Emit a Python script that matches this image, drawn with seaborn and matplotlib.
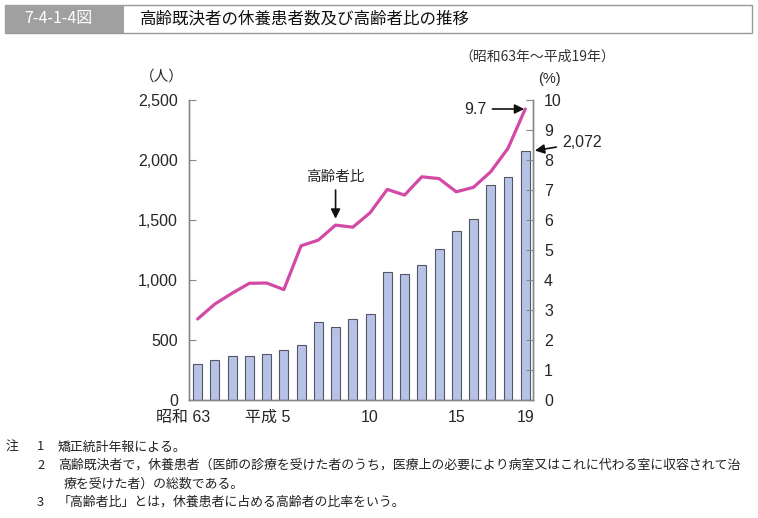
import numpy as np
import pandas as pd
import matplotlib
matplotlib.use("Agg")
import matplotlib.pyplot as plt
import matplotlib.transforms as mtransforms
from matplotlib.patches import Rectangle
from matplotlib.ticker import FuncFormatter
import seaborn as sns

# ── Data ──────────────────────────────────────────────────────────────
years = ["昭和63", "平成元", "2", "3", "4", "5", "6", "7", "8", "9",
         "10", "11", "12", "13", "14", "15", "16", "17", "18", "19"]
patients = [300, 333, 364, 364, 381, 417, 461, 647, 606, 672,
            714, 1069, 1047, 1125, 1256, 1406, 1511, 1792, 1858, 2072]
elderly_ratio = [2.70, 3.20, 3.56, 3.89, 3.90, 3.68, 5.14, 5.33, 5.83, 5.76,
                 6.24, 7.02, 6.83, 7.44, 7.38, 6.94, 7.09, 7.61, 8.39, 9.7]
tick_pos = [0, 5, 10, 15, 19]
tick_labels = ["昭和 63", "平成 5", "10", "15", "19"]

title_no = "7-4-1-4図"
title = "高齢既決者の休養患者数及び高齢者比の推移"
period = "（昭和63年～平成19年）"
note_head = "注"
note_nums = ["1", "2", "", "3"]
note_lines = [
    "矯正統計年報による。",
    "高齢既決者で，休養患者（医師の診療を受けた者のうち，医療上の必要により病室又はこれに代わる室に収容されて治",
    "療を受けた者）の総数である。",
    "「高齢者比」とは，休養患者に占める高齢者の比率をいう。",
]

df = pd.DataFrame({"year": years, "patients": patients, "ratio": elderly_ratio})
df["x"] = np.arange(len(df))

# ── Style ─────────────────────────────────────────────────────────────
sns.set_style("white")
plt.rcParams["font.family"] = ["Liberation Sans", "Noto Sans CJK JP", "DejaVu Sans"]
CJK = ["Noto Sans CJK JP", "DejaVu Sans"]

BAR_COLOR = "#b7c3e6"
BAR_EDGE = "#555566"
LINE_COLOR = "#d24aa6"
AXIS_COLOR = "#888888"

fig = plt.figure(figsize=(7.58, 5.18), dpi=100)

# ── Header ────────────────────────────────────────────────────────────
W, H = 758, 518
def fx(px):
    return px / W
def fy(py):
    return 1 - py / H

fig.patches.append(Rectangle((fx(5), fy(33)), fx(747), 28 / H, transform=fig.transFigure,
                             facecolor="white", edgecolor="#999999", lw=1.0))
fig.patches.append(Rectangle((fx(5), fy(33)), fx(119), 28 / H, transform=fig.transFigure,
                             facecolor="#a0a0a0", edgecolor="none"))
fig.text(fx(58), fy(19), title_no, color="white", fontsize=11.5, ha="center", va="center",
         family=CJK)
fig.text(fx(140), fy(19), title, color="#111111", fontsize=11.9, ha="left", va="center",
         family=CJK)

# ── Axes ──────────────────────────────────────────────────────────────
ax = fig.add_axes([fx(189), fy(400), (533 - 189) / W, 300 / H])
ax2 = ax.twinx()

sns.barplot(data=df, x="x", y="patients", ax=ax, color=BAR_COLOR, width=0.52,
            edgecolor=BAR_EDGE, linewidth=0.8, native_scale=True, saturation=1)
sns.lineplot(data=df, x="x", y="ratio", ax=ax2, color=LINE_COLOR, linewidth=2.3)

ax.set_xlim(-0.5, 19.45)
ax.set_ylim(0, 2500)
ax2.set_ylim(0, 10)
ax.set_yticks(np.arange(0, 2501, 500))
ax.yaxis.set_major_formatter(FuncFormatter(lambda v, p: f"{int(v):,}"))
ax2.set_yticks(np.arange(0, 11, 1))
ax.set_xlabel("")
ax.set_ylabel("")
ax2.set_ylabel("")

for a in (ax, ax2):
    a.spines["top"].set_visible(False)
    for side in ("left", "right", "bottom"):
        a.spines[side].set_color(AXIS_COLOR)
        a.spines[side].set_linewidth(1.0)
ax.tick_params(axis="y", direction="in", length=5, color=AXIS_COLOR, labelsize=11.5, pad=8)
ax2.tick_params(axis="y", direction="in", length=5, color=AXIS_COLOR, labelsize=11.5, pad=8)

ax.set_xticks(tick_pos)
ax.set_xticklabels(tick_labels, fontsize=11.5)
ax.tick_params(axis="x", direction="in", length=0, pad=7)
for lbl in ax.get_xticklabels():
    txt = lbl.get_text()
    if " " in txt:
        num_w = 4.5 * len(txt.split(" ")[1])
        lbl.set_horizontalalignment("right")
        lbl.set_transform(lbl.get_transform() + mtransforms.ScaledTranslation(
            num_w / 72, 0, fig.dpi_scale_trans))

# ── Unit labels ───────────────────────────────────────────────────────
fig.text(fx(162), fy(77), "（人）", fontsize=10.5, ha="center", va="center", family=CJK)
fig.text(fx(549), fy(79), "(%)", fontsize=10.5, ha="center", va="center")
fig.text(fx(537), fy(57), period, fontsize=10, ha="center", va="center", family=CJK,
         color="#333333")

# ── Annotations ───────────────────────────────────────────────────────
arrow = dict(arrowstyle="-|>", color="#111111", lw=1.2, mutation_scale=14)
ax2.annotate("高齢者比", xy=(8, elderly_ratio[8] + 0.12), xytext=(8, 7.2),
             ha="center", va="bottom", fontsize=10.5, family=CJK, arrowprops=arrow)
ax2.annotate("9.7", xy=(19.1, 9.7), xytext=(16.1, 9.7), ha="center", va="center",
             fontsize=11.5, arrowprops=arrow)
ax.annotate("2,072", xy=(19.4, 2075), xytext=(22.3, 2142), ha="center", va="center",
            fontsize=11.5, arrowprops=arrow, annotation_clip=False)

# ── Notes ─────────────────────────────────────────────────────────────
fig.text(fx(6), fy(447), note_head, fontsize=9.3, ha="left", va="center",
         family=CJK, color="#222222")
for i, (num, line) in enumerate(zip(note_nums, note_lines)):
    y = fy(447 + i * 18.5)
    if num:
        fig.text(fx(37), y, num, fontsize=9.3, ha="left", va="center",
                 family=CJK, color="#222222")
    fig.text(fx(58 if num else 64), y, line, fontsize=9.3, ha="left", va="center",
             family=CJK, color="#222222")

fig.savefig("out.png", dpi=100)
